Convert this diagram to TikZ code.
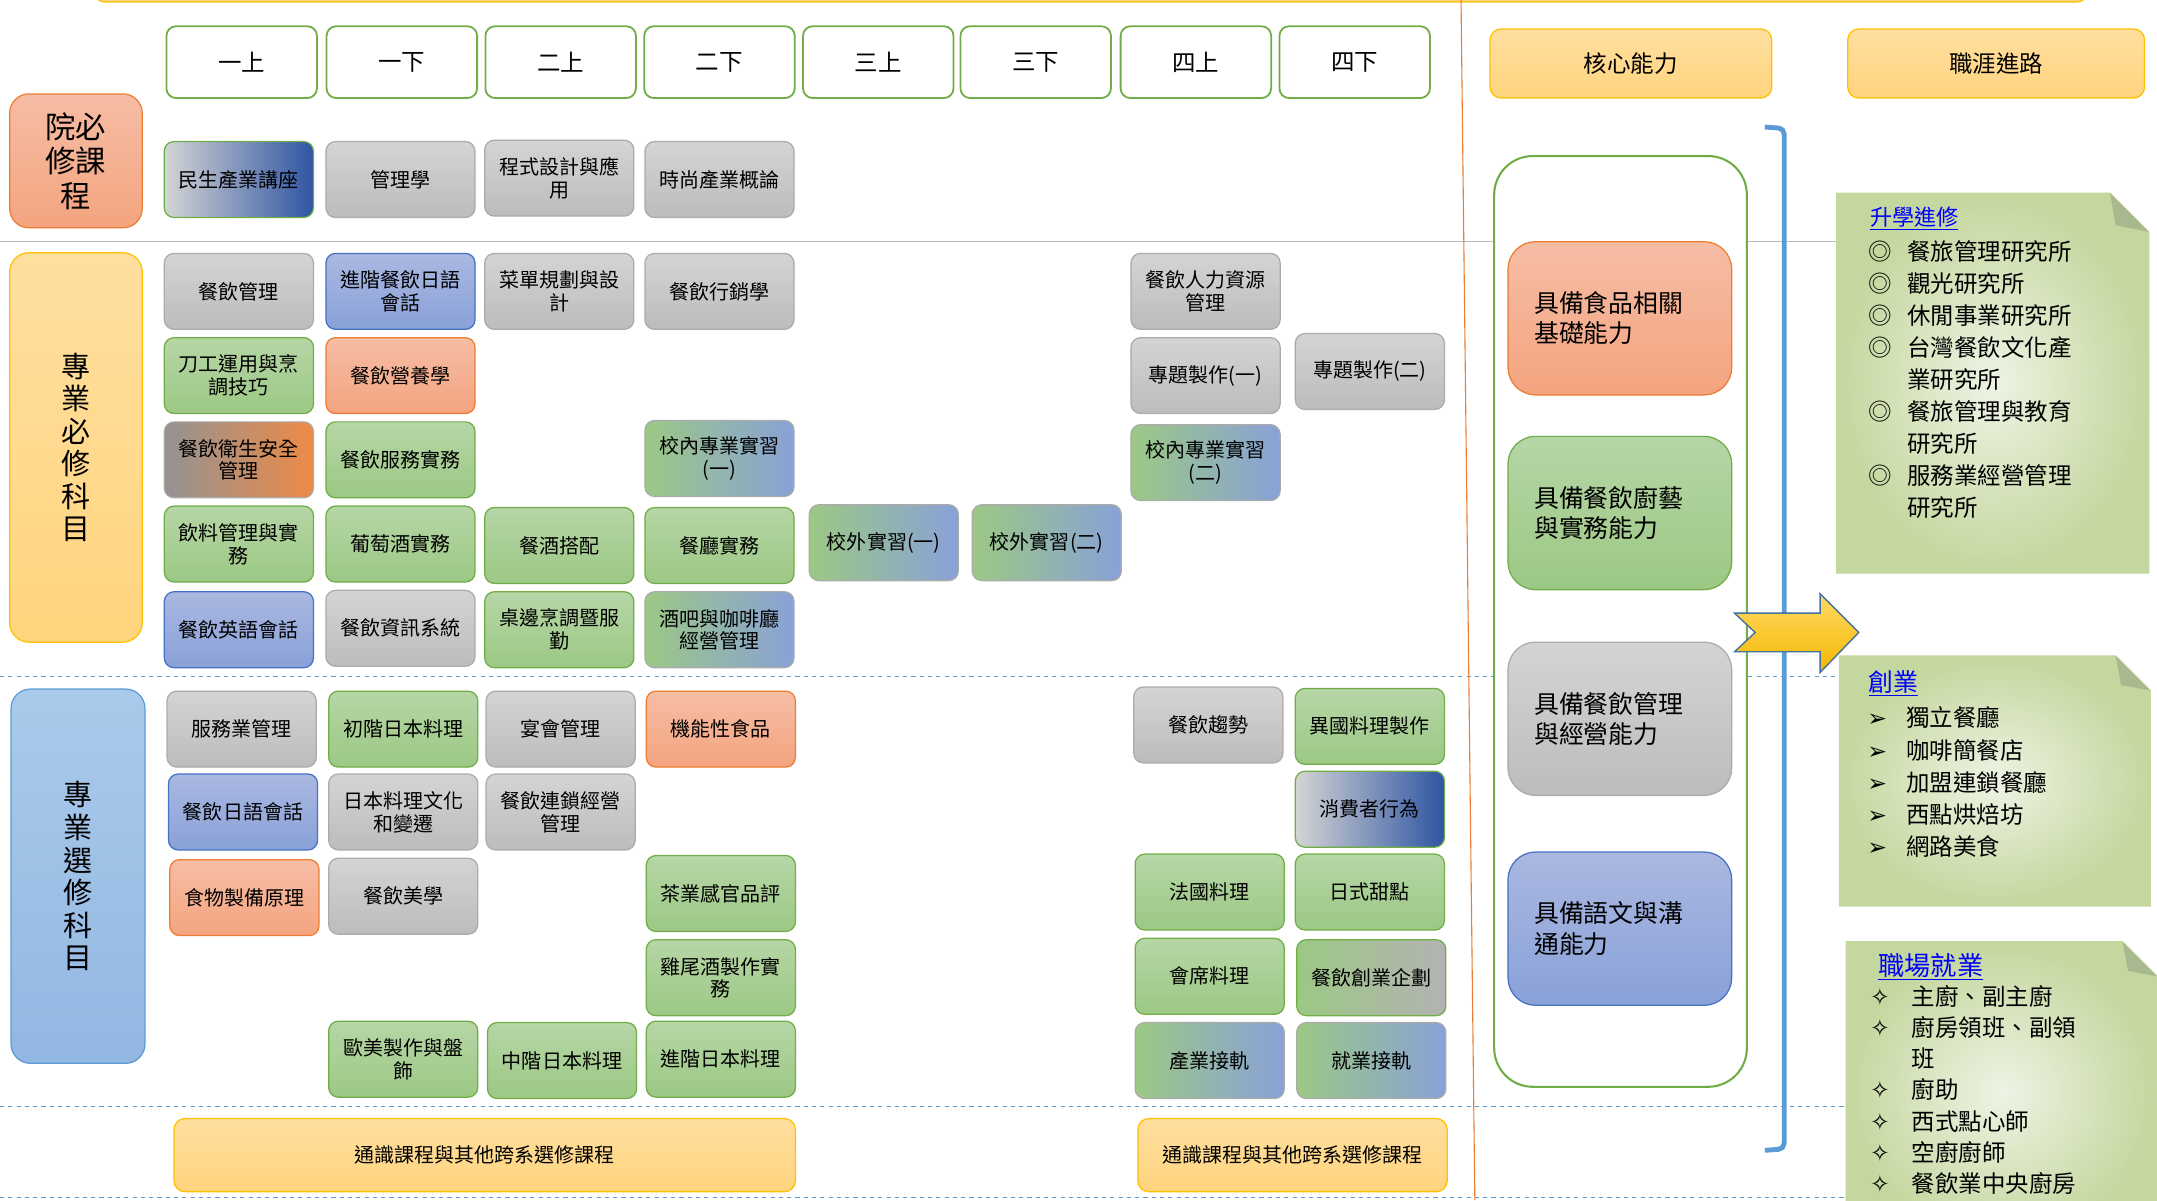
\documentclass[tikz,border=0pt]{standalone}
\usepackage{fontspec}
\setmainfont{Noto Sans CJK TC}
\newfontfamily\symfont{DejaVu Sans}
\definecolor{graytop}{HTML}{D4D4D4}
\definecolor{graybot}{HTML}{BCBCBC}
\definecolor{graybd}{HTML}{ABABAB}
\definecolor{greentop}{HTML}{B6D6A6}
\definecolor{greenbot}{HTML}{9CC884}
\definecolor{greenbd}{HTML}{70AD47}
\definecolor{bluetop}{HTML}{AAB8E1}
\definecolor{bluebot}{HTML}{89A1D8}
\definecolor{bluebd}{HTML}{4472C4}
\definecolor{orangetop}{HTML}{F6BDA5}
\definecolor{orangebot}{HTML}{F4A47F}
\definecolor{orangebd}{HTML}{ED7D31}
\definecolor{navy}{HTML}{2E55A3}
\definecolor{yellowtop}{HTML}{FFDF9F}
\definecolor{yellowbot}{HTML}{FFD47E}
\definecolor{yellowbd}{HTML}{FFC000}
\definecolor{skytop}{HTML}{AACAEB}
\definecolor{skybot}{HTML}{92B7E1}
\definecolor{skybd}{HTML}{5B9BD5}
\definecolor{notelight}{HTML}{EEF3E4}
\definecolor{notedark}{HTML}{C4D79E}
\definecolor{notefold}{HTML}{A8B88F}
\definecolor{arrowtop}{HTML}{FFD966}
\definecolor{arrowbot}{HTML}{F5B800}
\definecolor{arrowbd}{HTML}{41719C}
\begin{document}
\begin{tikzpicture}[x=1pt,y=-1pt,
	course/.style={draw,rounded corners=7pt,minimum width=108pt,minimum height=55pt,align=center,inner sep=1pt,line width=0.9pt,font=\fontsize{14.5}{16.5}\selectfont},
	cgray/.style={course,draw=graybd,top color=graytop,bottom color=graybot},
	cgreen/.style={course,draw=greenbd,top color=greentop,bottom color=greenbot},
	cblue/.style={course,draw=bluebd,top color=bluetop,bottom color=bluebot},
	corange/.style={course,draw=orangebd,top color=orangetop,bottom color=orangebot},
	cgb/.style={course,draw=graybd,left color=greenbot,right color=bluebot},
	cnavy/.style={course,draw=greenbd,left color=graytop,right color=navy},
	cgo/.style={course,draw=graybd,left color=gray!85,right color=orangebd!90},
	cgg/.style={course,draw=greenbd,left color=greenbot,right color=graybot!95!black},
	sem/.style={draw=greenbd,line width=1.3pt,rounded corners=7pt,fill=white,minimum width=109pt,minimum height=52pt,font=\fontsize{17}{20}\selectfont},
	yellowbox/.style={draw=yellowbd,line width=0.9pt,rounded corners=8pt,top color=yellowtop,bottom color=yellowbot,align=center},
	cat/.style={rounded corners=14pt,line width=0.9pt,align=center,inner sep=0pt},
	core/.style={rounded corners=20pt,line width=0.9pt,minimum width=162pt,minimum height=111pt,text width=124pt,align=left,font=\fontsize{18}{22}\selectfont},
	note/.style={draw=notedark,line width=0.9pt,inner color=notelight,outer color=notedark},
	notetitle/.style={anchor=west,inner sep=0pt,text=blue},
	notelist/.style={anchor=north west,inner sep=0pt,font=\fontsize{17}{23.2}\selectfont}]
	\useasboundingbox (0,0) rectangle (1562,869);
	\draw[draw=yellowbd,fill=yellowbot,rounded corners=8pt,line width=0.9pt] (68,-40) rectangle (1512,1.5);
	\draw[graybd!80,line width=1pt] (0,175) -- (1330,175);
	\foreach \y in {490,801,867}
		\draw[skybd,dashed,line width=0.9pt] (0,\y) -- (1337,\y);
	\draw[orangebd,line width=0.8pt] (1058,0) -- (1068,869);

	\foreach \n/\x/\t in {ya/175/一上,yb/291/一下,yc/406/二上,yd/521/二下,ye/636/三上,yf/750/三下,yg/866/四上,yh/981/四下}
		\node[sem] (\n) at (\x,45) {\t};

	\node[cat,draw=orangebd,top color=orangetop,bottom color=orangebot,minimum width=96pt,minimum height=97pt,font=\fontsize{22}{25}\selectfont] (college) at (55,116.5) {院必\\修課\\程};
	\node[cat,draw=yellowbd,top color=yellowtop,bottom color=yellowbot,minimum width=96pt,minimum height=282pt,font=\fontsize{21}{23.6}\selectfont] (required) at (55,324) {專\\業\\必\\修\\科\\目};
	\node[cat,draw=skybd,top color=skytop,bottom color=skybot,minimum width=97pt,minimum height=271pt,font=\fontsize{21}{23.6}\selectfont] (elective) at (56.5,634.5) {專\\業\\選\\修\\科\\目};

	\node[cnavy] (lecture) at (173,130) {民生產業講座};
	\node[cgray] (mgmtsci) at (290,130) {管理學};
	\node[cgray] (program) at (405,129) {程式設計與應\\用};
	\node[cgray] (fashion) at (521,130) {時尚產業概論};

	\node[cgray] (fbmgmt) at (173,211) {餐飲管理};
	\node[cblue] (advjpn) at (290,211) {進階餐飲日語\\會話};
	\node[cgray] (menu) at (405,211) {菜單規劃與設\\計};
	\node[cgray] (marketing) at (521,211) {餐飲行銷學};
	\node[cgray] (hr) at (873,211) {餐飲人力資源\\管理};
	\node[cgreen] (knife) at (173,272) {刀工運用與烹\\調技巧};
	\node[corange] (nutri) at (290,272) {餐飲營養學};
	\node[cgray] (proja) at (873,272) {專題製作(一)};
	\node[cgray] (projb) at (992,269) {專題製作(二)};
	\node[cgo] (hygiene) at (173,333) {餐飲衛生安全\\管理};
	\node[cgreen] (service) at (290,333) {餐飲服務實務};
	\node[cgb] (interna) at (521,332) {校內專業實習\\(一)};
	\node[cgb] (internb) at (873,335) {校內專業實習\\(二)};
	\node[cgreen] (beverage) at (173,394) {飲料管理與實\\務};
	\node[cgreen] (wine) at (290,394) {葡萄酒實務};
	\node[cgreen] (pairing) at (405,395) {餐酒搭配};
	\node[cgreen] (restaurant) at (521,395) {餐廳實務};
	\node[cgb] (externa) at (640,393) {校外實習(一)};
	\node[cgb] (externb) at (758,393) {校外實習(二)};
	\node[cblue] (english) at (173,456) {餐飲英語會話};
	\node[cgray] (infosys) at (290,455) {餐飲資訊系統};
	\node[cgreen] (tableside) at (405,456) {桌邊烹調暨服\\勤};
	\node[cgb] (barcafe) at (521,456) {酒吧與咖啡廳\\經營管理};

	\node[cgray] (svcmgmt) at (175,528) {服務業管理};
	\node[cgreen] (basicjp) at (292,528) {初階日本料理};
	\node[cgray] (banquet) at (406,528) {宴會管理};
	\node[corange] (functional) at (522,528) {機能性食品};
	\node[cgray] (trend) at (875,525) {餐飲趨勢};
	\node[cgreen] (foreign) at (992,526) {異國料理製作};
	\node[cblue] (jpconv) at (176,588) {餐飲日語會話};
	\node[cgray] (jpculture) at (292,588) {日本料理文化\\和變遷};
	\node[cgray] (chain) at (406,588) {餐飲連鎖經營\\管理};
	\node[cnavy] (consumer) at (992,586) {消費者行為};
	\node[corange] (foodprep) at (177,650) {食物製備原理};
	\node[cgray] (aesthetic) at (292,649) {餐飲美學};
	\node[cgreen] (tea) at (522,647) {茶業感官品評};
	\node[cgreen] (french) at (876,646) {法國料理};
	\node[cgreen] (wagashi) at (992,646) {日式甜點};
	\node[cgreen] (cocktail) at (522,708) {雞尾酒製作實\\務};
	\node[cgreen] (kaiseki) at (876,707) {會席料理};
	\node[cgg] (startup) at (993,708) {餐飲創業企劃};
	\node[cgreen] (plating) at (292,767) {歐美製作與盤\\飾};
	\node[cgreen] (midjp) at (407,768) {中階日本料理};
	\node[cgreen] (advjp) at (522,767) {進階日本料理};
	\node[cgb] (industry) at (876,768) {產業接軌};
	\node[cgb] (employ) at (993,768) {就業接軌};

	\node[yellowbox,minimum width=450pt,minimum height=53pt,font=\fontsize{14.5}{16.5}\selectfont] (generala) at (351,836.5) {通識課程與其他跨系選修課程};
	\node[yellowbox,minimum width=224pt,minimum height=53pt,font=\fontsize{14.5}{16.5}\selectfont] (generalb) at (936,836.5) {通識課程與其他跨系選修課程};

	\node[yellowbox,minimum width=204pt,minimum height=50pt,font=\fontsize{17}{20}\selectfont] (corehead) at (1181,46) {核心能力};
	\node[yellowbox,minimum width=215pt,minimum height=50pt,font=\fontsize{17}{20}\selectfont] (careerhead) at (1445.5,46) {職涯進路};

	\node[draw=greenbd,line width=1.5pt,rounded corners=28pt,fill=white,minimum width=183pt,minimum height=674pt] (coreframe) at (1173.5,450) {};
	\node[core,draw=orangebd,top color=orangetop,bottom color=orangebot] (corefood) at (1173,230.5) {具備食品相關\\基礎能力};
	\node[core,draw=greenbd,top color=greentop,bottom color=greenbot] (corecook) at (1173,371.5) {具備餐飲廚藝\\與實務能力};
	\node[core,draw=graybd,top color=graytop,bottom color=graybot] (coremgmt) at (1173,520.5) {具備餐飲管理\\與經營能力};
	\node[core,draw=bluebd,top color=bluetop,bottom color=bluebot] (corelang) at (1173,672.5) {具備語文與溝\\通能力};

	\draw[skybd,line width=3.5pt,rounded corners=4pt] (1278,92) -- (1292,93) -- (1292,832) -- (1278,833);
	\shade[top color=arrowtop,bottom color=arrowbot,draw=arrowbd,line width=1pt] (1256,444) -- (1318,444) -- (1318,430) -- (1346,458) -- (1318,487) -- (1318,472) -- (1256,472) -- (1271,458) -- cycle;

	\path[note] (1330,140) -- (1528,140) -- (1556,168) -- (1556,415) -- (1330,415) -- cycle;
	\fill[notefold] (1528,140) -- (1532,163) -- (1556,168) -- cycle;
	\node[notetitle,font=\fontsize{16}{18}\selectfont] (studytitle) at (1354,158) {\underline{升學進修}};
	\node[notelist] (studylist) at (1353,172) {\begin{tabular}{@{}l@{\hspace{11pt}}l@{}}◎&餐旅管理研究所\\◎&觀光研究所\\◎&休閒事業研究所\\◎&台灣餐飲文化產\\&業研究所\\◎&餐旅管理與教育\\&研究所\\◎&服務業經營管理\\&研究所\end{tabular}};

	\path[note] (1332,475) -- (1532,475) -- (1557,500) -- (1557,656) -- (1332,656) -- cycle;
	\fill[notefold] (1532,475) -- (1536,496) -- (1557,500) -- cycle;
	\node[notetitle,font=\fontsize{18}{20}\selectfont] (bizntitle) at (1353,495) {\underline{創業}};
	\node[notelist] (biznlist) at (1352,510) {\begin{tabular}{@{}l@{\hspace{14pt}}l@{}}{\symfont ➢}&獨立餐廳\\{\symfont ➢}&咖啡簡餐店\\{\symfont ➢}&加盟連鎖餐廳\\{\symfont ➢}&西點烘焙坊\\{\symfont ➢}&網路美食\end{tabular}};

	\path[note] (1337,682) -- (1537,682) -- (1562,707) -- (1562,900) -- (1337,900) -- cycle;
	\fill[notefold] (1537,682) -- (1541,703) -- (1562,707) -- cycle;
	\node[notetitle,font=\fontsize{19}{21}\selectfont] (jobtitle) at (1360,700) {\underline{職場就業}};
	\node[notelist,font=\fontsize{17}{22.6}\selectfont] (joblist) at (1354,712) {\begin{tabular}{@{}l@{\hspace{16pt}}l@{}}{\symfont ✧}&主廚、副主廚\\{\symfont ✧}&廚房領班、副領\\&班\\{\symfont ✧}&廚助\\{\symfont ✧}&西式點心師\\{\symfont ✧}&空廚廚師\\{\symfont ✧}&餐飲業中央廚房\end{tabular}};
\end{tikzpicture}
\end{document}
